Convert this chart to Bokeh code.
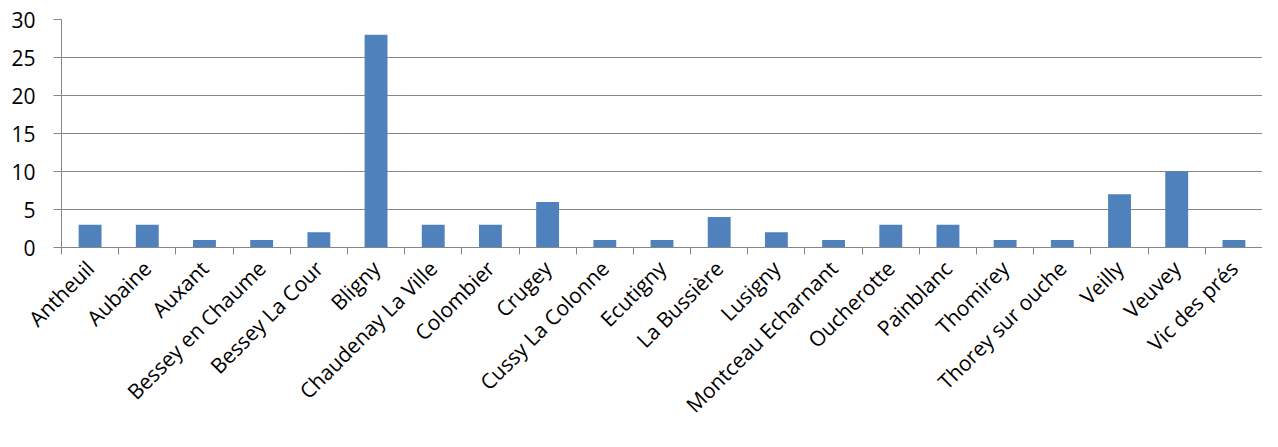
import math
from bokeh.plotting import figure
from bokeh.models import FixedTicker, Range1d, ColumnDataSource
from bokeh.embed import file_html
from bokeh.resources import INLINE

communes = ["Antheuil", "Aubaine", "Auxant", "Bessey en Chaume", "Bessey La Cour",
            "Bligny", "Chaudenay La Ville", "Colombier", "Crugey", "Cussy La Colonne",
            "Ecutigny", "La Bussière", "Lusigny", "Montceau Echarnant", "Oucherotte",
            "Painblanc", "Thomirey", "Thorey sur ouche", "Veilly", "Veuvey", "Vic des prés"]
valeurs = [3, 3, 1, 1, 2, 28, 3, 3, 6, 1, 1, 4, 2, 1, 3, 3, 1, 1, 7, 10, 1]
y_ticks = [0, 5, 10, 15, 20, 25, 30]

n = len(communes)
centres = [i + 0.5 for i in range(n)]
source = ColumnDataSource(data=dict(x=centres, top=valeurs, name=communes))

GREY = "#868686"
FONT = "Open Sans"

p = figure(width=1262, height=431, output_backend="svg", toolbar_location=None,
           x_range=Range1d(0, n), y_range=Range1d(0, 30),
           min_border_left=61, min_border_right=0, min_border_top=19, min_border_bottom=10)
p.outline_line_color = None
p.background_fill_color = "white"
p.border_fill_color = "white"

p.vbar(x="x", top="top", width=0.4, source=source, fill_color="#4F81BD", line_color=None)

# x axis: tick marks between categories (minor), names at category centres
xa = p.xaxis[0]
xa.ticker = FixedTicker(ticks=centres, minor_ticks=list(range(n + 1)))
xa.major_label_overrides = {c: name for c, name in zip(centres, communes)}
xa.major_tick_line_color = None
xa.major_tick_out = 0
xa.major_tick_in = 0
xa.minor_tick_line_color = GREY
xa.minor_tick_out = 7
xa.minor_tick_in = 0
xa.axis_line_color = GREY
xa.major_label_orientation = math.pi / 4
xa.major_label_standoff = 10
xa.major_label_text_font = FONT
xa.major_label_text_font_size = "21px"
xa.major_label_text_color = "black"

# y axis
ya = p.yaxis[0]
ya.ticker = FixedTicker(ticks=y_ticks)
ya.axis_line_color = GREY
ya.major_tick_line_color = GREY
ya.major_tick_out = 8
ya.major_tick_in = 0
ya.minor_tick_line_color = None
ya.major_label_standoff = 18
ya.major_label_text_font = FONT
ya.major_label_text_font_size = "21px"
ya.major_label_text_color = "black"

p.xgrid.grid_line_color = None
p.ygrid.grid_line_color = GREY
p.ygrid.grid_line_width = 1

open("out.html", "w").write(file_html(p, INLINE))
